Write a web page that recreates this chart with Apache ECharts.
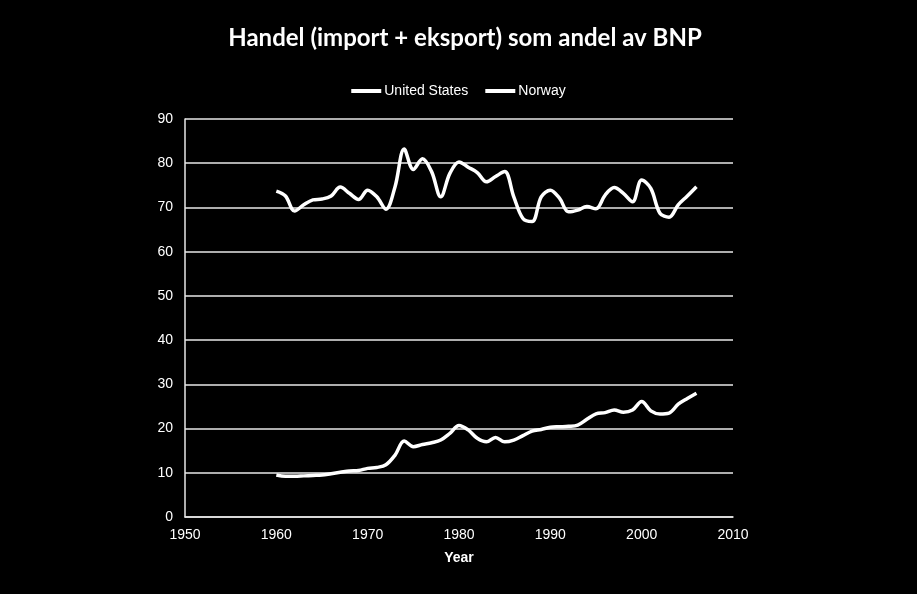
<!DOCTYPE html>
<html><head><meta charset="utf-8">
<script src="https://cdn.jsdelivr.net/npm/echarts@6/dist/echarts.min.js"></script>
<style>html,body{margin:0;padding:0;background:#000}#c{width:917px;height:594px}</style>
</head><body><div id="c"></div>
<script>
const years = [1960,1961,1962,1963,1964,1965,1966,1967,1968,1969,1970,1971,1972,1973,1974,1975,1976,1977,1978,1979,1980,1981,1982,1983,1984,1985,1986,1987,1988,1989,1990,1991,1992,1993,1994,1995,1996,1997,1998,1999,2000,2001,2002,2003,2004,2005,2006];
const unitedStates = [9.5,9.2,9.2,9.3,9.4,9.5,9.8,10.1,10.4,10.5,11.0,11.2,11.8,14.0,17.2,15.9,16.4,16.8,17.4,18.9,20.7,19.7,17.8,17.0,18.0,17.0,17.4,18.4,19.4,19.8,20.3,20.4,20.5,20.8,22.1,23.3,23.6,24.2,23.7,24.2,26.1,24.0,23.3,23.5,25.5,26.8,28.0];
const norway = [73.7,72.6,69.2,70.6,71.7,71.9,72.6,74.6,73.2,71.8,73.9,72.4,69.6,74.7,83.2,78.6,81.0,78.1,72.4,77.7,80.3,79.1,77.9,75.8,77.0,78.1,72.4,67.5,66.8,72.4,73.9,72.1,69.0,69.4,70.2,69.7,72.8,74.5,73.2,71.3,76.2,74.3,68.7,67.8,70.6,72.6,74.7];
const xTicks = [1950,2010,10];
const yTicks = [0,90,10];

const chart = echarts.init(document.getElementById('c'));
const pairs = arr => years.map((y,i)=>[y,arr[i]]);
chart.setOption({
  backgroundColor:'#000',
  animation:false,
  title:{text:'Handel (import + eksport) som andel av BNP',left:460,top:21,textAlign:'center',
    textStyle:{color:'#fff',fontFamily:'Lato',fontWeight:'bold',fontSize:24}},
  legend:{top:79,left:'center',icon:'rect',itemWidth:30,itemHeight:4,itemGap:17,
    textStyle:{color:'#fff',fontFamily:'Liberation Sans',fontSize:14,padding:[0,0,0,-2]},
    data:['United States','Norway']},
  grid:{left:185,right:184,top:119,bottom:77},
  xAxis:{type:'value',min:xTicks[0],max:xTicks[1],interval:xTicks[2],
    name:'Year',nameLocation:'middle',nameGap:34,
    nameTextStyle:{color:'#fff',fontFamily:'Liberation Sans',fontWeight:'bold',fontSize:14},
    axisLine:{show:true,lineStyle:{color:'#e8e8e8',width:1.5}},
    axisTick:{show:false},splitLine:{show:false},
    axisLabel:{color:'#fff',fontFamily:'Liberation Sans',fontSize:14,margin:11,formatter:v=>String(v)}},
  yAxis:{type:'value',min:yTicks[0],max:yTicks[1],interval:yTicks[2],
    axisLine:{show:true,lineStyle:{color:'#e8e8e8',width:1.5}},
    axisTick:{show:false},
    splitLine:{show:true,lineStyle:{color:'#e8e8e8',width:1.5}},
    axisLabel:{color:'#fff',fontFamily:'Liberation Sans',fontSize:14,margin:12}},
  series:[
    {name:'United States',type:'line',data:pairs(unitedStates),smooth:0.35,symbol:'none',
      itemStyle:{color:'#fff'},lineStyle:{color:'#fff',width:3.5}},
    {name:'Norway',type:'line',data:pairs(norway),smooth:0.35,symbol:'none',
      itemStyle:{color:'#fff'},lineStyle:{color:'#fff',width:3.5}}
  ]
});
</script></body></html>
